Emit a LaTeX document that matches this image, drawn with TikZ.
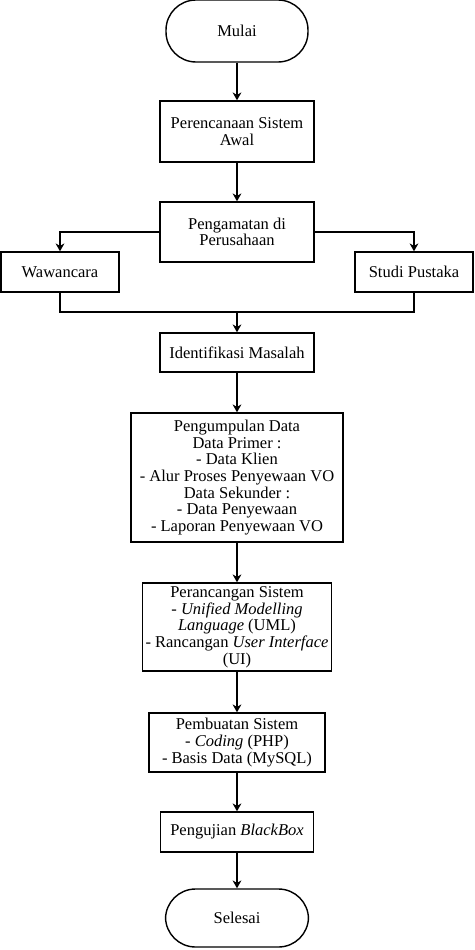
\documentclass[tikz,border=0pt]{standalone}
\usepackage{fontspec}
\setmainfont{Liberation Serif}
\usepackage{tikz}
\usetikzlibrary{arrows.meta}

\begin{document}
\begin{tikzpicture}[x=0.02cm,y=-0.02cm,
  font=\fontsize{9.4}{9.5}\selectfont,
  box/.style={rectangle,draw,line width=0.8pt,align=center,inner sep=1pt},
  term/.style={rectangle,draw,line width=0.8pt,rounded corners=0.6cm,inner sep=1pt},
  arr/.style={line width=0.8pt,-{Stealth[length=4.5pt,width=5pt]}}]
\clip (0,0) rectangle (474,950);
\node (1) at (237,31) [term,minimum width=2.84cm,minimum height=1.24cm] {Mulai};
\node (2) at (237,131.5) [box,minimum width=3.08cm,minimum height=1.22cm] {Perencanaan Sistem\\Awal};
\node (3) at (237,232) [box,minimum width=3.08cm,minimum height=1.2cm] {Pengamatan di\\Perusahaan};
\node (4) at (60,272) [box,minimum width=2.36cm,minimum height=0.8cm] {Wawancara};
\node (5) at (414,272) [box,minimum width=2.36cm,minimum height=0.8cm] {Studi Pustaka};
\coordinate (m) at (237,312);
\node (6) at (237,352.5) [box,minimum width=3.08cm,minimum height=0.78cm] {Identifikasi Masalah};
\node (7) at (237,477.5) [box,minimum width=4.24cm,minimum height=2.58cm] {Pengumpulan Data\\Data Primer :\\- Data Klien\\- Alur Proses Penyewaan VO\\Data Sekunder :\\- Data Penyewaan\\- Laporan Penyewaan VO};
\node (8) at (237,627) [box,minimum width=3.78cm,minimum height=1.76cm] {Perancangan Sistem\\- \textit{Unified Modelling}\\\textit{Language} (UML)\\- Rancangan \textit{User Interface}\\(UI)};
\node (9) at (237,742.5) [box,minimum width=3.52cm,minimum height=1.18cm] {Pembuatan Sistem\\- \textit{Coding} (PHP)\\- Basis Data (MySQL)};
\node (10) at (237,832) [box,minimum width=3.06cm,minimum height=0.8cm] {Pengujian \textit{BlackBox}};
\node (11) at (237,918) [term,minimum width=2.86cm,minimum height=1.16cm] {Selesai};
\draw[arr] (1) -- (2);
\draw[arr] (2) -- (3);
\draw[arr] (3.west) -| (4.north);
\draw[arr] (3.east) -| (5.north);
\draw[line width=0.8pt] (4.south) |- (m) -| (5.south);
\draw[arr] (m) -- (6);
\draw[arr] (6) -- (7);
\draw[arr] (7) -- (8);
\draw[arr] (8) -- (9);
\draw[arr] (9) -- (10);
\draw[arr] (10) -- (11);
\end{tikzpicture}
\end{document}
